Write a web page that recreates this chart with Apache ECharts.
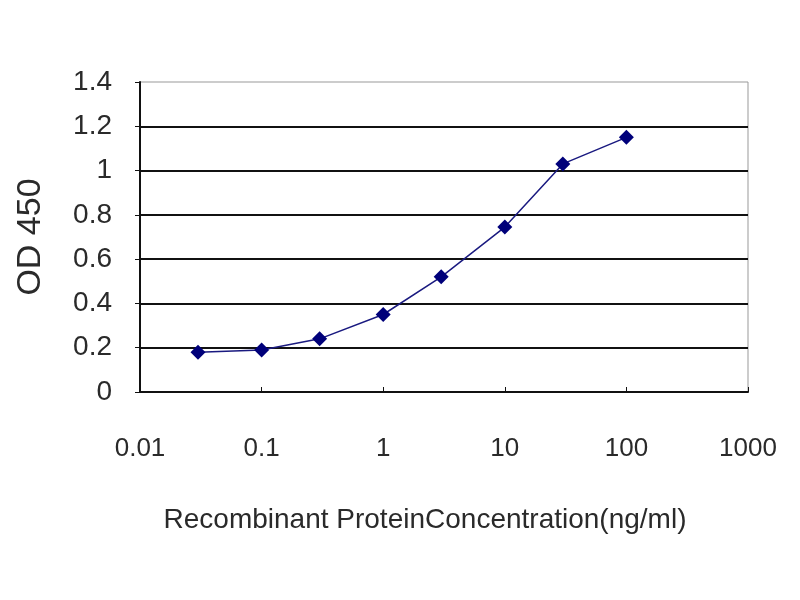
<!DOCTYPE html>
<html><head><meta charset="utf-8">
<script src="https://cdn.jsdelivr.net/npm/echarts@6/dist/echarts.min.js"></script>
<style>html,body{margin:0;padding:0;background:#fff}#c{width:800px;height:600px}</style>
</head><body><div id="c"></div>
<script>
const concentrations = [0.03, 0.1, 0.3, 1, 3, 10, 30, 100];
const od450 = [0.18, 0.19, 0.24, 0.35, 0.52, 0.745, 1.03, 1.15];
const xTickLabels = ['0.01', '0.1', '1', '10', '100', '1000'];
const yTickLabels = ['0', '0.2', '0.4', '0.6', '0.8', '1', '1.2', '1.4'];

const chart = echarts.init(document.getElementById('c'));
const font = 'Liberation Sans, Arial, sans-serif';
chart.setOption({
  animation: false,
  grid: {left: 140, right: 52, top: 82, bottom: 208, show: true, borderColor: '#999', borderWidth: 1, backgroundColor: 'transparent'},
  xAxis: {
    type: 'log', logBase: 10, min: 0.01, max: 1000,
    name: 'Recombinant ProteinConcentration(ng/ml)', nameLocation: 'middle', nameGap: 114,
    nameTextStyle: {fontFamily: font, fontSize: 28, color: '#2a2a2a', padding: [0, 38, 0, 0]},
    axisLine: {lineStyle: {color: '#111', width: 2}},
    axisTick: {show: true, inside: true, length: 5, lineStyle: {color: '#111'}},
    minorTick: {show: false},
    splitLine: {show: false},
    axisLabel: {margin: 44, fontFamily: font, fontSize: 26, color: '#2a2a2a',
      formatter: function (v) { const i = Math.round(Math.log10(v)) + 2; return xTickLabels[i] || ''; }}
  },
  yAxis: {
    type: 'value', min: 0, max: 1.4, interval: 0.2,
    name: 'OD 450', nameLocation: 'middle', nameGap: 92,
    nameTextStyle: {fontFamily: font, fontSize: 34, color: '#2a2a2a'},
    axisLine: {show: true, lineStyle: {color: '#111', width: 2}},
    axisTick: {show: true, length: 5, lineStyle: {color: '#111'}},
    splitLine: {show: true, showMaxLine: false, lineStyle: {color: '#111', width: 2}},
    axisLabel: {margin: 28, fontFamily: font, fontSize: 28, color: '#2a2a2a',
      formatter: function (v) { return yTickLabels[Math.round(v / 0.2)]; }}
  },
  series: [{
    type: 'line',
    data: concentrations.map((c, i) => [c, od450[i]]),
    symbol: 'diamond', symbolSize: 15,
    itemStyle: {color: '#00007a'},
    lineStyle: {color: '#1a1a80', width: 1.5}
  }]
});
</script></body></html>
